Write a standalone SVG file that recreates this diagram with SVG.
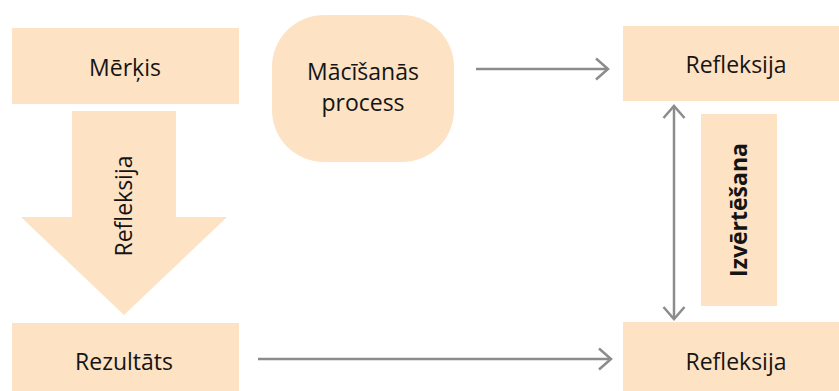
<svg xmlns="http://www.w3.org/2000/svg" width="839" height="391" viewBox="0 0 839 391">
  <style>
    .box { fill: #fde2c4; }
    .lbl { font-family: "Open Sans", "Noto Sans", "DejaVu Sans", sans-serif; font-size: 23px; fill: #141414; text-anchor: middle; }
    .bold { font-weight: bold; }
    .conn { stroke: #8c8c8c; stroke-width: 2.5; fill: none; }
  </style>
  <defs>
    <marker id="chev" markerUnits="userSpaceOnUse" markerWidth="18" markerHeight="26" viewBox="0 0 18 26" refX="15" refY="13" orient="auto-start-reverse">
      <path d="M3,2.5 L15,13 L3,23.5" fill="none" stroke="#8c8c8c" stroke-width="2.5"/>
    </marker>
  </defs>

  <rect width="839" height="391" fill="#ffffff"/>

  <!-- goal box -->
  <g id="merkis">
    <rect class="box" x="12" y="28" width="227" height="76"/>
    <text class="lbl" x="125" y="76">Mērķis</text>
  </g>

  <!-- large downward arrow with rotated label -->
  <g id="refleksija-arrow">
    <polygon class="box" points="72,111 176,111 176,217 227,217 124,315 21,217 72,217"/>
    <text class="lbl" transform="translate(132,206) rotate(-90)" x="0" y="0">Refleksija</text>
  </g>

  <!-- result box -->
  <g id="rezultats">
    <rect class="box" x="12" y="323" width="227" height="68"/>
    <text class="lbl" x="124" y="370">Rezultāts</text>
  </g>

  <!-- learning process -->
  <g id="macisanas-process">
    <rect class="box" x="272" y="15" width="182" height="147" rx="52" ry="52"/>
    <text class="lbl" x="363" y="80">Mācīšanās</text>
    <text class="lbl" x="363" y="111">process</text>
  </g>

  <!-- reflection, top right -->
  <g id="refleksija-top">
    <rect class="box" x="623" y="26" width="216" height="75"/>
    <text class="lbl" x="736" y="73">Refleksija</text>
  </g>

  <!-- evaluation -->
  <g id="izvertesana">
    <rect class="box" x="701" y="114" width="76" height="192"/>
    <text class="lbl bold" transform="translate(747,210) rotate(-90)" x="0" y="0">Izvērtēšana</text>
  </g>

  <!-- reflection, bottom right -->
  <g id="refleksija-bottom">
    <rect class="box" x="623" y="322" width="216" height="69"/>
    <text class="lbl" x="736" y="370">Refleksija</text>
  </g>

  <!-- connectors -->
  <g id="connectors">
    <line class="conn" x1="476" y1="69" x2="608" y2="69" marker-end="url(#chev)"/>
    <line class="conn" x1="258" y1="359" x2="611" y2="359" marker-end="url(#chev)"/>
    <line class="conn" x1="674" y1="106" x2="674" y2="319" marker-start="url(#chev)" marker-end="url(#chev)"/>
  </g>
</svg>
